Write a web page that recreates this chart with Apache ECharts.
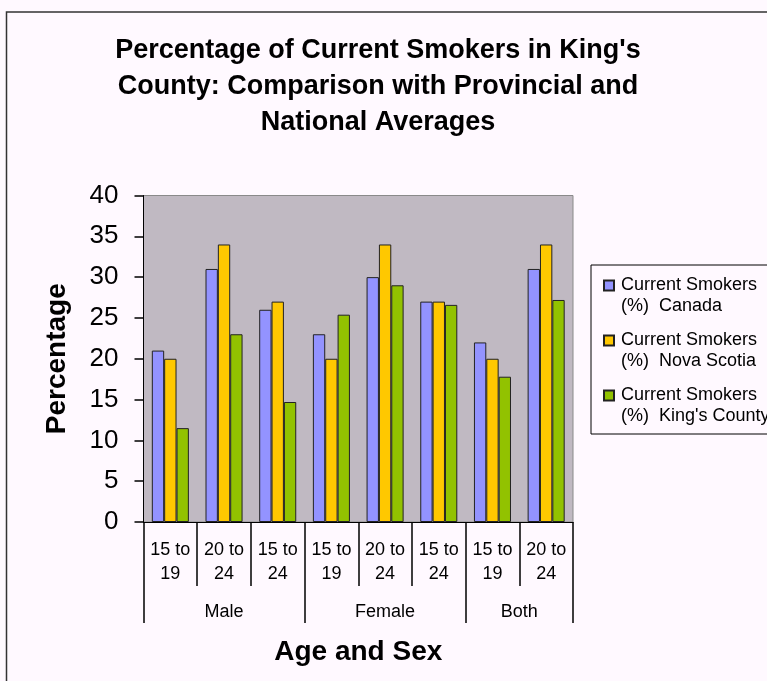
<!DOCTYPE html>
<html>
<head>
<meta charset="utf-8">
<script src="https://cdn.jsdelivr.net/npm/echarts@6/dist/echarts.min.js"></script>
<style>
  html, body { margin: 0; padding: 0; background: #FFF9FF; }
  #chart { width: 767px; height: 681px; }
</style>
</head>
<body>
<div id="chart"></div>
<script>
// Age bands along the x axis, grouped by sex
const ageBands = ['15 to\n19', '20 to\n24', '15 to\n24', '15 to\n19', '20 to\n24', '15 to\n24', '15 to\n19', '20 to\n24'];
const sexGroups = ['Male', 'Female', 'Both'];
const sexGroupSpans = [3, 3, 2];

// Percentage of current smokers
const canada = [21, 31, 26, 23, 30, 27, 22, 31];
const novaScotia = [20, 34, 27, 20, 34, 27, 20, 34];
const kingsCounty = [11.5, 23, 14.7, 25.4, 29, 26.6, 17.8, 27.2];

const seriesNames = [
  'Current Smokers\n(%)  Canada',
  'Current Smokers\n(%)  Nova Scotia',
  "Current Smokers\n(%)  King's County"
];
const seriesColors = ['#9393FF', '#FFC800', '#92C200'];

const yTicks = { min: 0, max: 40, interval: 5 };

// Group boundaries and centres on a 0..N scale for the second-level axis
const groupBounds = [0];
sexGroupSpans.forEach(s => groupBounds.push(groupBounds[groupBounds.length - 1] + s));
const groupCentres = sexGroups.map((_, i) => (groupBounds[i] + groupBounds[i + 1]) / 2);

const font = 'Liberation Sans, Arial, sans-serif';

const chart = echarts.init(document.getElementById('chart'), null, { renderer: 'canvas' });

const seriesData = [canada, novaScotia, kingsCounty];

chart.setOption({
  backgroundColor: '#FFF9FF',
  animation: false,
  textStyle: { fontFamily: font },
  graphic: [{
    type: 'rect',
    shape: { x: 6.5, y: 12, width: 820, height: 720 },
    style: { fill: 'none', stroke: '#333', lineWidth: 1.5 },
    silent: true
  }],
  title: {
    text: "Percentage of Current Smokers in King's\nCounty: Comparison with Provincial and\nNational Averages",
    left: 373,
    top: 28,
    textAlign: 'center',
    textStyle: { fontFamily: font, fontSize: 27, fontWeight: 'bold', color: '#000', lineHeight: 36 }
  },
  legend: {
    orient: 'vertical',
    left: 591,
    top: 265,
    padding: [9, 24, 6, 12],
    itemGap: 11,
    itemWidth: 10,
    itemHeight: 42,
    icon: 'path://M0,5.5h10v10h-10zM0,0L0,0M0,42L0,42',
    borderColor: '#000',
    borderWidth: 1,
    backgroundColor: '#FFF9FF',
    textStyle: { fontFamily: font, fontSize: 18, lineHeight: 21, color: '#000', padding: [0, 0, 0, 2] },
    data: seriesNames
  },
  grid: {
    left: 143.5,
    right: 194,
    top: 195.5,
    bottom: 159,
    show: true,
    backgroundColor: '#C0B9C2',
    borderColor: '#8A8A8A',
    borderWidth: 1,
    containLabel: false,
    outerBoundsMode: 'none'
  },
  xAxis: [{
    type: 'category',
    data: ageBands,
    boundaryGap: true,
    axisLine: { lineStyle: { color: '#000', width: 1 } },
    axisTick: { show: true, interval: 0, length: 64, lineStyle: { color: '#000', width: 1.5 } },
    axisLabel: { interval: 0, margin: 16, fontFamily: font, fontSize: 18, lineHeight: 24, color: '#000' },
    name: 'Age and Sex',
    nameLocation: 'middle',
    nameGap: 116,
    nameTextStyle: { fontFamily: font, fontSize: 28, fontWeight: 'bold', color: '#000' }
  }, {
    type: 'value',
    position: 'bottom',
    min: 0,
    max: ageBands.length,
    axisLine: { show: false },
    splitLine: { show: false },
    axisTick: { show: true, customValues: groupBounds, length: 101, lineStyle: { color: '#000', width: 1.5 } },
    axisLabel: {
      customValues: groupCentres,
      margin: 78,
      fontFamily: font, fontSize: 18, lineHeight: 24, color: '#000',
      formatter: v => sexGroups[groupCentres.indexOf(v)] || ''
    }
  }],
  yAxis: {
    type: 'value',
    min: yTicks.min,
    max: yTicks.max,
    interval: yTicks.interval,
    axisLine: { show: true, lineStyle: { color: '#000', width: 1 } },
    axisTick: { show: true, length: 9, lineStyle: { color: '#000', width: 1.5 } },
    splitLine: { show: false },
    axisLabel: { margin: 25, fontFamily: font, fontSize: 26, color: '#000' },
    name: 'Percentage',
    nameLocation: 'middle',
    nameGap: 72,
    nameTextStyle: { fontFamily: font, fontSize: 28, fontWeight: 'bold', color: '#000' }
  },
  series: seriesNames.map((name, i) => ({
    name,
    type: 'bar',
    xAxisIndex: 0,
    data: seriesData[i],
    barGap: '0%',
    barCategoryGap: '31%',
    itemStyle: { color: seriesColors[i], borderColor: '#222', borderWidth: 1 }
  }))
});
</script>
</body>
</html>
